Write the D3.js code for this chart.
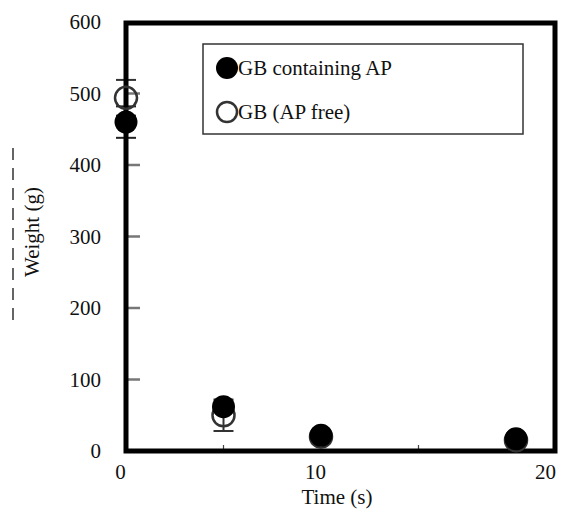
<!DOCTYPE html>
<html>
<head>
<meta charset="utf-8">
<script src="https://cdn.jsdelivr.net/npm/d3@7"></script>
<style>
  body { margin: 0; background: #fff; }
  svg text { font-family: "Liberation Serif", "Times New Roman", Times, "DejaVu Serif", serif !important; fill: #111; }
</style>
</head>
<body>
<div id="chart"></div>
<script>
// data
var times = [0, 5, 10, 20];
var withAP = [460, 62, 22, 17];
var withAPErr = [22, 0, 0, 0];
var apFree = [494, 50, 20, 15];
var apFreeErr = [25, 22, 0, 0];
var seriesNames = ["GB containing AP", "GB (AP free)"];
var yTicks = [0, 100, 200, 300, 400, 500, 600];
var xMinor = [5, 15];
var xTickPos = [0, 10, 21.8];
var xTickText = ["0", "10", "20"];

function init() {
    var w = 563, h = 510;
    var left = 126, right = 555, top = 23, bottom = 451;
    var serif = "'Liberation Serif', 'Times New Roman', serif";
    var fs = 21;

    var svg = d3.select("#chart").append("svg").attr("width", w).attr("height", h)
        .attr("font-family", serif);

    var x = d3.scaleLinear().domain([0, 22]).range([left, right]);
    var y = d3.scaleLinear().domain([0, 600]).range([bottom, top - 1]);

    // scan artefact dashes left of the y label
    svg.append("line")
        .attr("x1", 13).attr("x2", 13).attr("y1", 148).attr("y2", 325)
        .attr("stroke", "#333").attr("stroke-width", 1.5)
        .attr("stroke-dasharray", "12,8");

    // inner y ticks
    svg.append("g").selectAll("line").data(yTicks.slice(1, -1)).enter().append("line")
        .attr("x1", left).attr("x2", left + 14)
        .attr("y1", d => y(d)).attr("y2", d => y(d))
        .attr("stroke", "#777").attr("stroke-width", 2.5);

    // minor x ticks
    svg.append("g").selectAll("line").data(xMinor).enter().append("line")
        .attr("x1", d => x(d)).attr("x2", d => x(d))
        .attr("y1", bottom).attr("y2", bottom - 6)
        .attr("stroke", "#444").attr("stroke-width", 1.2);

    // y tick labels via axis
    var yAxis = d3.axisLeft(y).tickValues(yTicks).tickSize(0).tickPadding(0);
    var gy = svg.append("g").attr("transform", "translate(101,0)").call(yAxis)
        .attr("font-family", serif).attr("font-size", fs);
    gy.select(".domain").remove();
    gy.selectAll("text").attr("dy", "0.33em");

    // x tick labels via axis
    var xAxis = d3.axisBottom(x).tickValues(xTickPos).tickFormat((d, i) => xTickText[i]).tickSize(0).tickPadding(0);
    var gx = svg.append("g").attr("transform", "translate(-6,479)").call(xAxis)
        .attr("font-family", serif).attr("font-size", fs);
    gx.select(".domain").remove();
    gx.selectAll("text").attr("dy", "0");

    // error bars
    function errBars(vals, errs, col) {
        var g = svg.append("g").attr("stroke", col).attr("stroke-width", 2);
        times.forEach(function (t, i) {
            if (!errs[i]) return;
            var cx = x(t);
            g.append("line").attr("x1", cx).attr("x2", cx)
                .attr("y1", y(vals[i] - errs[i])).attr("y2", y(vals[i] + errs[i]));
            [vals[i] - errs[i], vals[i] + errs[i]].forEach(function (v) {
                g.append("line").attr("x1", cx - 10).attr("x2", cx + 10)
                    .attr("y1", y(v)).attr("y2", y(v));
            });
        });
    }
    errBars(apFree, apFreeErr, "#333");
    errBars(withAP, withAPErr, "#222");

    // frame
    svg.append("rect")
        .attr("x", left).attr("y", top).attr("width", right - left).attr("height", bottom - top)
        .attr("fill", "none").attr("stroke", "#000").attr("stroke-width", 5);

    // open circles (AP free)
    svg.append("g").selectAll("circle").data(times).enter().append("circle")
        .attr("cx", d => x(d)).attr("cy", (d, i) => y(apFree[i]))
        .attr("r", 11).attr("fill", "none").attr("stroke", "#333").attr("stroke-width", 2.5);

    // filled circles (containing AP)
    svg.append("g").selectAll("circle").data(times).enter().append("circle")
        .attr("cx", d => x(d)).attr("cy", (d, i) => y(withAP[i]))
        .attr("r", 11.5).attr("fill", "#000");

    // legend
    var lg = svg.append("g");
    lg.append("rect").attr("x", 203).attr("y", 44).attr("width", 320).attr("height", 90)
        .attr("fill", "#fff").attr("stroke", "#333").attr("stroke-width", 1.5);
    lg.append("circle").attr("cx", 227).attr("cy", 68).attr("r", 11).attr("fill", "#000");
    lg.append("circle").attr("cx", 227).attr("cy", 112).attr("r", 10)
        .attr("fill", "none").attr("stroke", "#333").attr("stroke-width", 2.5);
    lg.selectAll("text.l").data(seriesNames).enter().append("text")
        .attr("x", 238).attr("y", (d, i) => 75 + i * 44)
        .attr("font-size", fs).text(d => d);

    // axis titles
    svg.append("text").attr("x", 337).attr("y", 504).attr("text-anchor", "middle")
        .attr("font-size", fs).text("Time (s)");
    svg.append("text").attr("transform", "translate(39,232) rotate(-90)")
        .attr("text-anchor", "middle").attr("font-size", fs).text("Weight (g)");
}
window.onload = init;
</script>
</body>
</html>
